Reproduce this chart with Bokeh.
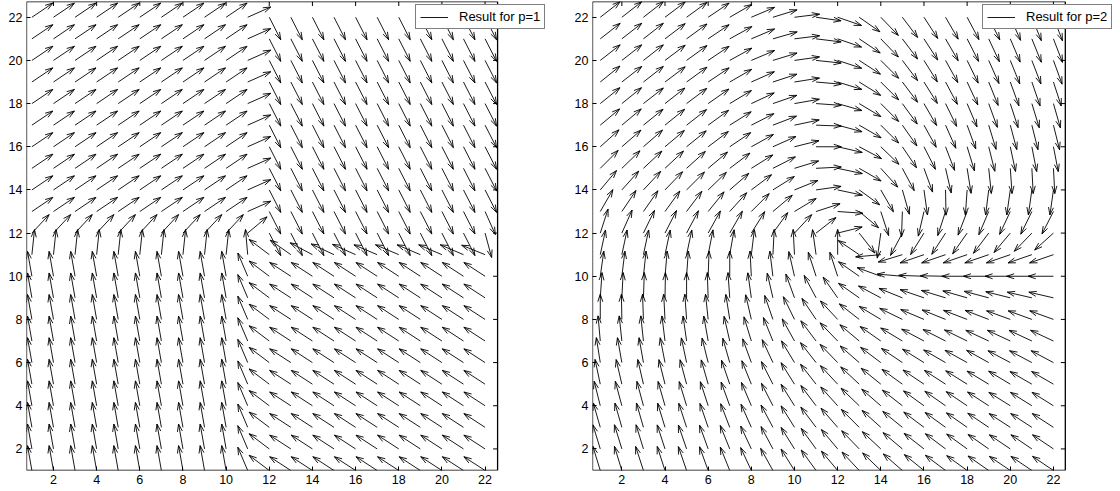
import numpy as np
from bokeh.plotting import figure
from bokeh.models import ColumnDataSource, FixedTicker, Range1d, Legend, LegendItem
from bokeh.layouts import row
from bokeh.embed import file_html
from bokeh.resources import INLINE

# grid positions
x_cols = [1, 2, 3, 4, 5, 6, 7, 8, 9, 10, 11, 12, 13, 14, 15, 16, 17, 18, 19, 20, 21, 22]
y_rows = [22, 21, 20, 19, 18, 17, 16, 15, 14, 13, 12, 11, 10, 9, 8, 7, 6, 5, 4, 3, 2, 1]
tick_values = [2, 4, 6, 8, 10, 12, 14, 16, 18, 20, 22]
legend_labels = ["Result for p=1", "Result for p=2"]

# arrow directions in degrees (rows: y=22 down to y=1; columns: x=1..22)
angles_p1 = [
    [34, 34, 34, 34, 34, 34, 34, 34, 34, 34, 24, -63, -63, -63, -63, -63, -63, -63, -63, -63, -63, -63],
    [34, 34, 34, 34, 34, 34, 34, 34, 34, 34, 24, -63, -63, -63, -63, -63, -63, -63, -63, -63, -63, -63],
    [34, 34, 34, 34, 34, 34, 34, 34, 34, 34, 24, -63, -63, -63, -63, -63, -63, -63, -63, -63, -63, -63],
    [34, 34, 34, 34, 34, 34, 34, 34, 34, 34, 24, -63, -63, -63, -63, -63, -63, -63, -63, -63, -63, -63],
    [34, 34, 34, 34, 34, 34, 34, 34, 34, 34, 24, -63, -63, -63, -63, -63, -63, -63, -63, -63, -63, -63],
    [34, 34, 34, 34, 34, 34, 34, 34, 34, 34, 24, -63, -63, -63, -63, -63, -63, -63, -63, -63, -63, -63],
    [34, 34, 34, 34, 34, 34, 34, 34, 34, 34, 24, -63, -63, -63, -63, -63, -63, -63, -63, -63, -63, -63],
    [34, 34, 34, 34, 34, 34, 34, 34, 34, 34, 24, -63, -63, -63, -63, -63, -63, -63, -63, -63, -63, -63],
    [34, 34, 34, 34, 34, 34, 34, 34, 34, 34, 24, -63, -63, -63, -63, -63, -63, -63, -63, -63, -63, -63],
    [34, 34, 34, 34, 34, 34, 34, 34, 34, 34, 24, -63, -63, -63, -63, -63, -63, -63, -63, -63, -63, -66],
    [47, 47, 47, 47, 47, 47, 47, 47, 47, 47, 40, -63, -63, -63, -63, -63, -63, -63, -63, -63, -63, -75],
    [84, 84, 84, 84, 84, 84, 84, 84, 84, 84, 95, 143, 145, 152, 155, 156, 157, 157, 157, 157, 157, 158],
    [100, 100, 100, 100, 100, 100, 100, 100, 100, 100, 113, 143, 147, 147, 147, 147, 147, 147, 147, 147, 147, 147],
    [100, 100, 100, 100, 100, 100, 100, 100, 100, 100, 113, 143, 147, 147, 147, 147, 147, 147, 147, 147, 147, 147],
    [100, 100, 100, 100, 100, 100, 100, 100, 100, 100, 113, 143, 147, 147, 147, 147, 147, 147, 147, 147, 147, 147],
    [100, 100, 100, 100, 100, 100, 100, 100, 100, 100, 113, 143, 147, 147, 147, 147, 147, 147, 147, 147, 147, 147],
    [100, 100, 100, 100, 100, 100, 100, 100, 100, 100, 113, 143, 147, 147, 147, 147, 147, 147, 147, 147, 147, 147],
    [100, 100, 100, 100, 100, 100, 100, 100, 100, 100, 113, 143, 147, 147, 147, 147, 147, 147, 147, 147, 147, 147],
    [100, 100, 100, 100, 100, 100, 100, 100, 100, 100, 113, 143, 147, 147, 147, 147, 147, 147, 147, 147, 147, 147],
    [100, 100, 100, 100, 100, 100, 100, 100, 100, 100, 113, 143, 147, 147, 147, 147, 147, 147, 147, 147, 147, 147],
    [100, 100, 100, 100, 100, 100, 100, 100, 100, 100, 113, 143, 147, 147, 147, 147, 147, 147, 147, 147, 147, 147],
    [100, 100, 100, 100, 100, 100, 100, 100, 100, 100, 113, 143, 147, 147, 147, 147, 147, 147, 147, 147, 147, 147],
]

angles_p2 = [
    [38, 38, 38, 37, 36, 34, 30, 23, 17, 7, -8, -19, -35, -46, -53, -57, -60, -62, -64, -66, -68, -69],
    [38, 38, 38, 37, 36, 34, 29, 23, 16, 7, -7, -19, -34, -46, -53, -57, -60, -63, -65, -67, -68, -69],
    [38, 38, 38, 37, 36, 34, 29, 23, 17, 8, -6, -18, -33, -45, -53, -58, -61, -64, -66, -68, -69, -70],
    [39, 38, 38, 37, 36, 34, 30, 24, 18, 9, -5, -17, -32, -45, -53, -58, -62, -65, -68, -70, -71, -72],
    [39, 39, 38, 38, 37, 35, 31, 25, 19, 10, -4, -16, -31, -45, -54, -60, -64, -67, -70, -72, -73, -74],
    [40, 40, 39, 39, 38, 36, 32, 27, 21, 12, -2, -15, -30, -45, -55, -61, -66, -70, -73, -75, -76, -76],
    [42, 41, 41, 40, 39, 37, 34, 29, 24, 14, 0, -13, -28, -44, -56, -63, -69, -73, -76, -78, -79, -79],
    [45, 44, 43, 43, 42, 40, 37, 32, 27, 17, 3, -12, -30, -48, -62, -70, -77, -81, -84, -86, -87, -87],
    [50, 48, 47, 46, 45, 44, 41, 37, 32, 22, 8, -12, -36, -60, -74, -82, -89, -94, -97, -98, -98, -98],
    [60, 56, 55, 54, 53, 51, 48, 45, 40, 31, 18, -4, -40, -72, -92, -103, -108, -111, -113, -115, -116, -117],
    [72, 66, 64, 63, 62, 61, 60, 58, 54, 47, 38, 14, -52, -98, -118, -122, -123, -125, -127, -130, -134, -138],
    [78, 78, 78, 78, 78, 79, 80, 83, 87, 93, 98, 90, 146, 185, 197, 199, 199, 199, 199, 199, 199, 199],
    [82, 83, 84, 85, 86, 88, 90, 93, 97, 103, 108, 108, 145, 160, 175, 178, 179, 180, 180, 180, 180, 180],
    [86, 87, 88, 89, 90, 92, 94, 98, 103, 110, 118, 125, 145, 152, 158, 161, 163, 164, 165, 166, 167, 167],
    [90, 91, 92, 93, 94, 96, 99, 103, 109, 116, 124, 133, 142, 149, 154, 157, 158, 159, 159, 160, 160, 160],
    [95, 96, 96, 97, 98, 100, 103, 107, 112, 119, 127, 134, 140, 145, 149, 152, 153, 154, 155, 155, 155, 155],
    [99, 100, 100, 101, 102, 104, 106, 110, 115, 121, 128, 134, 139, 143, 146, 148, 150, 151, 151, 152, 152, 152],
    [102, 103, 103, 104, 105, 106, 109, 112, 117, 122, 128, 133, 137, 141, 144, 146, 147, 148, 149, 149, 150, 150],
    [104, 105, 105, 106, 107, 108, 110, 113, 117, 122, 127, 132, 136, 139, 142, 144, 145, 146, 147, 148, 148, 148],
    [106, 106, 106, 107, 108, 109, 111, 114, 118, 122, 127, 131, 135, 138, 141, 143, 144, 145, 146, 147, 147, 147],
    [107, 107, 107, 108, 109, 110, 112, 115, 118, 122, 126, 130, 134, 137, 140, 142, 143, 144, 145, 146, 146, 146],
    [107, 107, 108, 108, 109, 110, 112, 115, 119, 122, 126, 130, 133, 136, 139, 141, 143, 144, 145, 146, 146, 146],
]

ARROW_LEN = 1.17
HEAD_A = 0.30
HEAD_B = 0.33
FONT = "Liberation Sans"
PX_PER_UNIT = 21.58
TICK_LEN = 4.5 / PX_PER_UNIT
Y_LIMITS = (1.0, 22.73)


def arrow_source(angles):
    X, Y = np.meshgrid(np.array(x_cols, float), np.array(y_rows, float))
    a = np.radians(np.array(angles, float))
    u = ARROW_LEN * np.cos(a)
    v = ARROW_LEN * np.sin(a)
    tx, ty = X + u, Y + v
    b1x = tx - HEAD_A * (u + HEAD_B * v)
    b1y = ty - HEAD_A * (v - HEAD_B * u)
    b2x = tx - HEAD_A * (u - HEAD_B * v)
    b2y = ty - HEAD_A * (v + HEAD_B * u)
    x0 = np.concatenate([X.ravel(), b1x.ravel(), b2x.ravel()])
    y0 = np.concatenate([Y.ravel(), b1y.ravel(), b2y.ravel()])
    x1 = np.concatenate([tx.ravel(), tx.ravel(), tx.ravel()])
    y1 = np.concatenate([ty.ravel(), ty.ravel(), ty.ravel()])
    return ColumnDataSource(dict(x0=x0, y0=y0, x1=x1, y1=y1))


def style_axis(ax):
    ax.ticker = FixedTicker(ticks=tick_values)
    ax.major_tick_in = 4
    ax.major_tick_out = 0
    ax.minor_tick_line_color = None
    ax.major_tick_line_color = "black"
    ax.axis_line_color = None
    ax.major_label_text_font = FONT
    ax.major_label_text_font_size = "12.5px"
    ax.major_label_text_color = "black"
    ax.major_label_standoff = 4


def make_panel(angles, label, x_lo, x_hi, border_left, frame_px, legend_x):
    # frame is wider than the axes box so that the legend can stick out to the right
    x_frame_hi = x_lo + frame_px / PX_PER_UNIT
    y_lo, y_hi = Y_LIMITS
    p = figure(width=560, height=491, x_range=Range1d(x_lo, x_frame_hi), y_range=Range1d(y_lo, y_hi),
               output_backend="svg", toolbar_location=None,
               min_border_left=border_left, min_border_right=560 - border_left - frame_px,
               min_border_top=1, min_border_bottom=21)
    p.grid.visible = False
    p.outline_line_color = None
    p.background_fill_color = "white"
    p.border_fill_color = "white"

    src = arrow_source(angles)
    r = p.segment(x0="x0", y0="y0", x1="x1", y1="y1", source=src,
                  line_color="black", line_width=0.9)

    # axes box
    box = ColumnDataSource(dict(
        x0=[x_lo, x_lo, x_lo, x_hi], y0=[y_lo, y_hi, y_lo, y_lo],
        x1=[x_hi, x_hi, x_lo, x_hi], y1=[y_lo, y_hi, y_hi, y_hi]))
    p.segment(x0="x0", y0="y0", x1="x1", y1="y1", source=box, line_color="black", line_width=1.3)
    # inward ticks on top and right sides of the box
    tv = np.array(tick_values, float)
    ticks = ColumnDataSource(dict(
        x0=np.concatenate([tv, np.full(len(tv), x_hi)]),
        y0=np.concatenate([np.full(len(tv), y_hi), tv]),
        x1=np.concatenate([tv, np.full(len(tv), x_hi - TICK_LEN)]),
        y1=np.concatenate([np.full(len(tv), y_hi - TICK_LEN), tv])))
    p.segment(x0="x0", y0="y0", x1="x1", y1="y1", source=ticks, line_color="black", line_width=1)

    style_axis(p.xaxis[0])
    style_axis(p.yaxis[0])

    legend = Legend(items=[LegendItem(label=label, renderers=[r])], location=(legend_x, 441))
    legend.border_line_color = "black"
    legend.border_line_width = 1
    legend.background_fill_color = "white"
    legend.background_fill_alpha = 1.0
    legend.padding = 4
    legend.margin = 0
    legend.spacing = 0
    legend.glyph_width = 28
    legend.glyph_height = 14
    legend.label_height = 14
    legend.label_standoff = 11
    legend.label_text_font = FONT
    legend.label_text_font_size = "13px"
    legend.label_text_color = "black"
    p.add_layout(legend)
    return p


p1 = make_panel(angles_p1, legend_labels[0], 0.75, 22.58, 26, 523, 389)
p2 = make_panel(angles_p2, legend_labels[1], 0.64, 22.55, 32, 525, 390)

layout = row(p1, p2)
open("out.html", "w").write(file_html(layout, INLINE))
